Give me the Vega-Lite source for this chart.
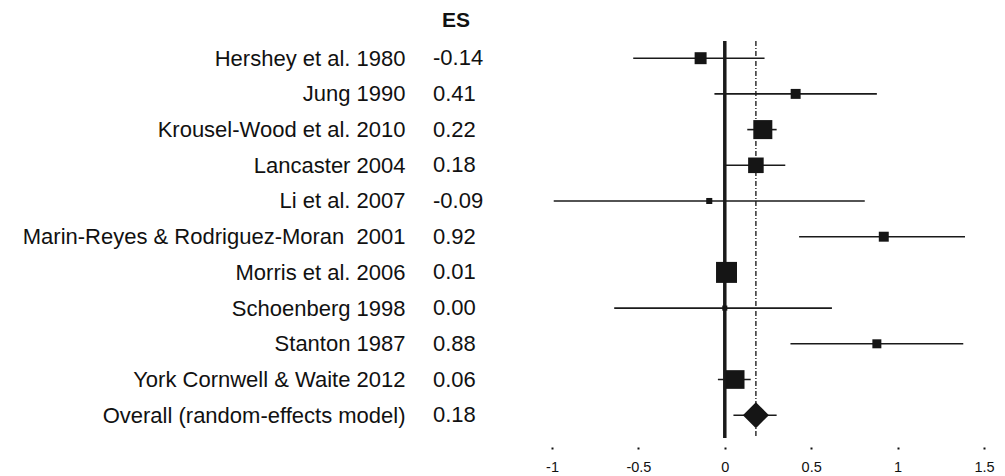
{
  "$schema": "https://vega.github.io/schema/vega-lite/v6.json",
  "padding": {"left": 22, "top": 10, "right": 5, "bottom": 3},
  "background": "white",
  "config": {
    "view": {"stroke": null},
    "font": "Liberation Sans",
    "locale": {"number": {"decimal": ".", "thousands": ",", "grouping": [3], "currency": ["$", ""], "minus": "-"}}
  },
  "data": {
    "values": [
      {"study": "Hershey et al. 1980", "es": -0.14, "lo": -0.53, "hi": 0.23, "weight": 7.8, "kind": "study"},
      {"study": "Jung 1990", "es": 0.41, "lo": -0.06, "hi": 0.88, "weight": 5.4, "kind": "study"},
      {"study": "Krousel-Wood et al. 2010", "es": 0.22, "lo": 0.13, "hi": 0.30, "weight": 19.7, "kind": "study"},
      {"study": "Lancaster 2004", "es": 0.18, "lo": 0.0, "hi": 0.35, "weight": 13.2, "kind": "study"},
      {"study": "Li et al. 2007", "es": -0.09, "lo": -0.99, "hi": 0.81, "weight": 2.0, "kind": "study"},
      {"study": "Marin-Reyes & Rodriguez-Moran\u00a0 2001", "es": 0.92, "lo": 0.43, "hi": 1.39, "weight": 5.4, "kind": "study"},
      {"study": "Morris et al. 2006", "es": 0.01, "lo": -0.04, "hi": 0.05, "weight": 24.0, "kind": "study"},
      {"study": "Schoenberg 1998", "es": 0.0, "lo": -0.64, "hi": 0.62, "weight": 1.4, "kind": "study"},
      {"study": "Stanton 1987", "es": 0.88, "lo": 0.38, "hi": 1.38, "weight": 4.4, "kind": "study"},
      {"study": "York Cornwell & Waite 2012", "es": 0.06, "lo": -0.04, "hi": 0.15, "weight": 19.0, "kind": "study"},
      {"study": "Overall (random-effects model)", "es": 0.18, "lo": 0.05, "hi": 0.30, "weight": null, "kind": "overall"}
    ]
  },
  "spacing": 0,
  "hconcat": [
    {
      "width": 112,
      "height": 397,
      "title": {"text": "ES", "anchor": "start", "frame": "group", "fontSize": 21, "fontWeight": "bold", "dx": 9, "offset": 10, "color": "#111"},
      "mark": {"type": "text", "align": "left", "baseline": "middle", "fontSize": 22, "color": "#111"},
      "encoding": {
        "y": {
          "field": "study", "type": "nominal", "sort": null,
          "scale": {"type": "point", "padding": 0.56, "align": 0.43},
          "axis": {"title": null, "domain": false, "ticks": false, "labelFontSize": 22, "labelPadding": 28, "labelColor": "#111", "labelLimit": 0}
        },
        "x": {"datum": 0, "type": "quantitative", "scale": {"domain": [0, 1]}, "axis": null},
        "text": {"field": "es", "type": "quantitative", "format": ".2f"}
      }
    },
    {
      "width": 432,
      "height": 397,
      "layer": [
        {
          "data": {"values": [{"ref": 0}]},
          "mark": {"type": "rule", "strokeWidth": 3.5, "color": "#1a1a1a"},
          "encoding": {
            "x": {
              "field": "ref", "type": "quantitative",
              "scale": {"domain": [-1, 1.5], "nice": false, "zero": false},
              "axis": {
                "title": null, "domain": false, "grid": false,
                "values": [-1, -0.5, 0, 0.5, 1, 1.5], "format": "~g",
                "tickSize": 2, "tickWidth": 2, "tickColor": "#111",
                "offset": 9, "labelFontSize": 14.5, "labelPadding": 11, "labelColor": "#111", "labelFlush": false
              }
            }
          }
        },
        {
          "data": {"values": [{"ref": 0.18}]},
          "mark": {"type": "rule", "strokeWidth": 1.3, "strokeDash": [5, 2, 1, 2], "color": "#111"},
          "encoding": {
            "x": {"field": "ref", "type": "quantitative"}
          }
        },
        {
          "mark": {"type": "rule", "strokeWidth": 1.6, "color": "#1a1a1a"},
          "encoding": {
            "y": {"field": "study", "type": "nominal", "sort": null, "scale": {"type": "point", "padding": 0.56, "align": 0.43}, "axis": null},
            "x": {"field": "lo", "type": "quantitative"},
            "x2": {"field": "hi"}
          }
        },
        {
          "transform": [{"filter": "datum.kind === 'study'"}],
          "mark": {"type": "point", "shape": "square", "filled": true, "opacity": 1, "color": "#151515"},
          "encoding": {
            "y": {"field": "study", "type": "nominal", "sort": null},
            "x": {"field": "es", "type": "quantitative"},
            "size": {"field": "weight", "type": "quantitative", "scale": {"type": "linear", "domain": [0, 24], "range": [0, 441], "zero": true}, "legend": null}
          }
        },
        {
          "transform": [{"filter": "datum.kind === 'overall'"}],
          "mark": {"type": "point", "shape": "diamond", "filled": true, "opacity": 1, "color": "#151515", "size": 676},
          "encoding": {
            "y": {"field": "study", "type": "nominal", "sort": null},
            "x": {"field": "es", "type": "quantitative"}
          }
        }
      ]
    }
  ]
}
